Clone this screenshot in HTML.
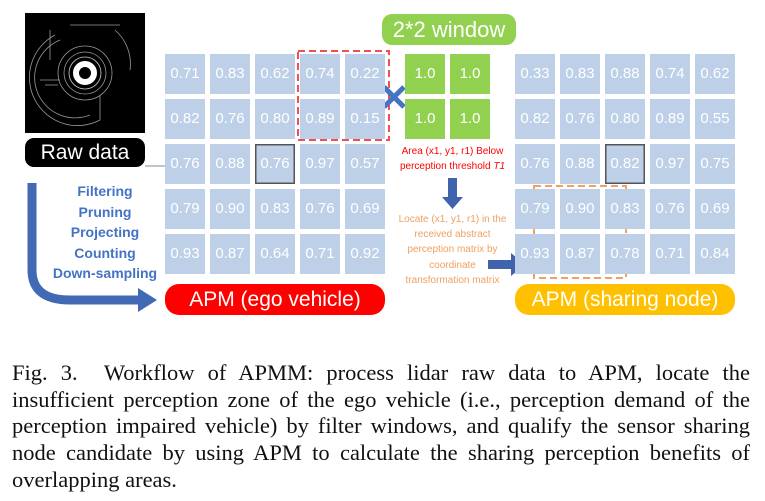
<!DOCTYPE html>
<html><head><meta charset="utf-8"><style>
body{margin:0;background:#fff;}
#c{position:relative;width:765px;height:501px;overflow:hidden;font-family:"Liberation Sans",sans-serif;}
.a{position:absolute;}
.cell{position:absolute;width:40px;height:40px;background:#bdd0e8;color:#fff;font-size:15px;line-height:40px;text-align:center;}
.g{background:#92d050;}
.cap{position:absolute;left:12px;width:738px;font-family:"Liberation Serif",serif;font-size:22.5px;color:#111;}
.cap div{text-align:justify;text-align-last:justify;height:26.7px;line-height:26.7px;white-space:nowrap;}
</style></head><body><div id="c">
<svg class="a" style="left:0;top:0" width="765" height="340">
<rect x="25" y="13" width="120" height="120" fill="#000"/>
<g fill="none" stroke="#999" stroke-width="0.8">
<circle cx="85" cy="73" r="9" stroke="#fff" stroke-width="6"/>
<circle cx="85" cy="73" r="16" stroke="#ccc"/>
<circle cx="85" cy="73" r="21"/>
<circle cx="85" cy="73" r="27"/>
<path d="M60 40 A40 40 0 0 0 90 115 M55 35 A48 48 0 0 0 100 120 M50 30 V60 M115 30 A45 45 0 0 1 130 70 M70 25 H120 M100 95 V120 M40 80 H60 M45 85 H58"/>
</g>
<line x1="145" y1="166" x2="165" y2="166" stroke="#888" stroke-width="1"/>
<path d="M32 183 V270 Q32 300 70 300 H140" fill="none" stroke="#4169b4" stroke-width="9"/>
<polygon points="138,288 157,300 138,312" fill="#4169b4"/>
<rect x="298" y="51" width="91" height="89" fill="none" stroke="#f05050" stroke-width="2" stroke-dasharray="7,4"/>
<rect x="534" y="186" width="92" height="92" fill="none" stroke="#f0a060" stroke-width="2" stroke-dasharray="7,4"/>
<path d="M384 87 L404 107 M404 87 L384 107" stroke="#4472c4" stroke-width="5"/>
<rect x="448" y="178" width="9" height="20" fill="#3f64ac"/><polygon points="442,197 463,197 452.5,209" fill="#3f64ac"/>
<rect x="488" y="260" width="24" height="9" fill="#3f64ac"/><polygon points="511,253 525,264.5 511,276" fill="#3f64ac"/>
</svg>
<div class="a" style="left:25px;top:138px;width:120px;height:29px;background:#000;border-radius:9px;color:#fff;font-size:21px;line-height:29px;text-align:center;">Raw data</div>
<div class="a" style="left:50px;top:181px;width:110px;text-align:center;color:#4472c4;font-weight:bold;font-size:14px;line-height:20.5px;white-space:nowrap;">Filtering<br>Pruning<br>Projecting<br>Counting<br>Down-sampling</div>
<div class="a" style="left:382px;top:14px;width:134px;height:31px;background:#92d050;border-radius:10px;color:#fff;font-size:22px;line-height:31px;text-align:center;">2*2 window</div>
<div class="a" style="left:165px;top:284px;width:220px;height:31px;background:#f00;border-radius:14px;color:#fff;font-size:21px;line-height:31px;text-align:center;">APM (ego vehicle)</div>
<div class="a" style="left:515px;top:284px;width:220px;height:31px;background:#ffc000;border-radius:14px;color:#fff;font-size:21px;line-height:31px;text-align:center;">APM (sharing node)</div>
<div class="a" style="left:385px;top:144px;width:135px;text-align:center;color:#f00;font-size:10px;line-height:15px;">Area (x1, y1, r1) Below<br>perception threshold <i>T1</i></div>
<div class="a" style="left:385px;top:212px;width:135px;text-align:center;color:#f0a060;font-size:10px;line-height:15.2px;">Locate (x1, y1, r1) in the<br>received abstract<br>perception matrix by<br>coordinate<br>transformation matrix</div>
<div id="cells"></div>
<div class="cap" style="top:360px">
<div>Fig. 3.&nbsp;&nbsp;Workflow of APMM: process lidar raw data to APM, locate the</div>
<div>insufficient perception zone of the ego vehicle (i.e., perception demand of the</div>
<div>perception impaired vehicle) by filter windows, and qualify the sensor sharing</div>
<div>node candidate by using APM to calculate the sharing perception benefits of</div>
<div style="text-align-last:left">overlapping areas.</div>
</div>
</div>
<script>
var L=[["0.71","0.83","0.62","0.74","0.22"],["0.82","0.76","0.80","0.89","0.15"],["0.76","0.88","0.76","0.97","0.57"],["0.79","0.90","0.83","0.76","0.69"],["0.93","0.87","0.64","0.71","0.92"]];
var R=[["0.33","0.83","0.88","0.74","0.62"],["0.82","0.76","0.80","0.89","0.55"],["0.76","0.88","0.82","0.97","0.75"],["0.79","0.90","0.83","0.76","0.69"],["0.93","0.87","0.78","0.71","0.84"]];
var h="";
for(var r=0;r<5;r++)for(var c=0;c<5;c++){
var y=54+r*45;
var b=(r==2&&c==2)?"box-shadow:inset 0 0 0 1.5px #555;":"";
h+='<div class="cell" style="left:'+(165+c*45)+'px;top:'+y+'px;'+b+'">'+L[r][c]+'</div>';
h+='<div class="cell" style="left:'+(515+c*45)+'px;top:'+y+'px;'+b+'">'+R[r][c]+'</div>';}
for(var r=0;r<2;r++)for(var c=0;c<2;c++)h+='<div class="cell g" style="left:'+(405+c*45)+'px;top:'+(54+r*45)+'px">1.0</div>';
document.getElementById("cells").innerHTML=h;
</script>
</body></html>
